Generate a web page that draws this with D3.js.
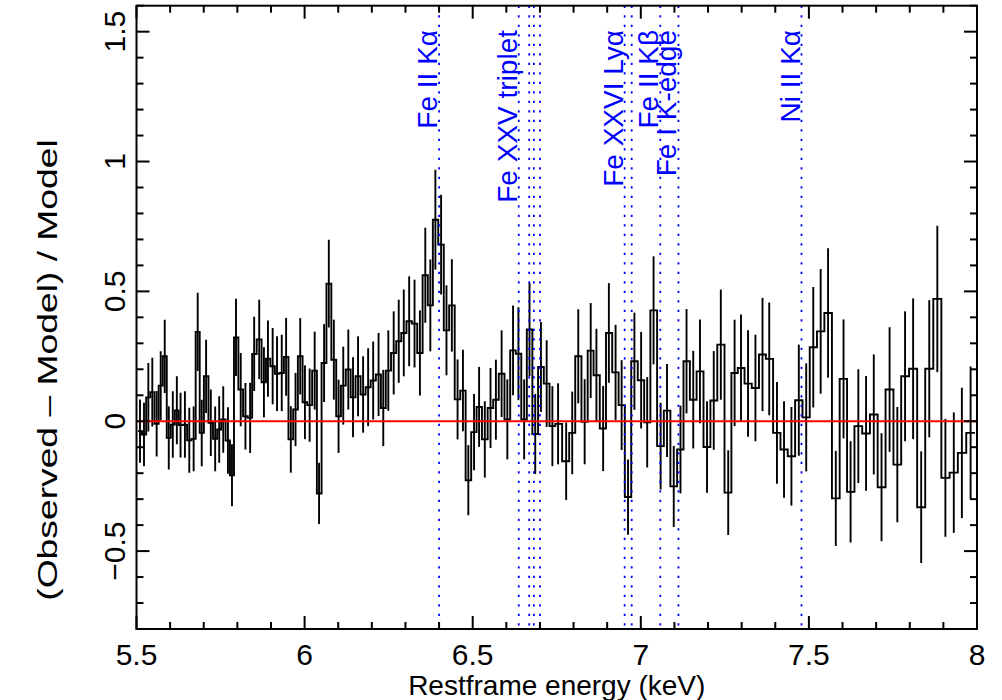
<!DOCTYPE html>
<html><head><meta charset="utf-8">
<script src="https://cdn.jsdelivr.net/npm/d3@7"></script>
<style>body{margin:0;background:#fff} svg{display:block}</style>
</head><body>
<svg id="c" width="1002" height="700"></svg>
<script>
// Bin centres (keV)
const energy = [
 5.5104,5.5223,5.5352,5.547,5.560,5.572,5.584,5.596,5.608,5.620,5.631,5.644,5.657,5.670,5.682,5.694,5.707,5.721,5.734,5.746,
 5.758,5.772,5.784,5.796,5.810,5.824,5.838,5.850,5.865,5.879,5.891,5.905,5.918,5.932,5.945,5.959,5.973,5.987,6.001,6.015,
 6.030,6.043,6.058,6.072,6.087,6.101,6.115,6.130,
 6.144,6.159,6.174,6.189,6.204,6.220,6.234,6.249,6.265,6.280,6.295,6.311,6.327,6.343,6.359,6.374,6.389,6.406,6.422,6.438,
 6.455,6.471,6.487,6.504,6.519,6.536,6.553,6.569,6.586,6.603,6.620,6.636,6.653,6.669,6.686,6.703,6.720,6.737,6.754,
 6.778,6.796,6.814,6.833,6.851,6.868,6.888,6.905,6.925,6.943,6.962,6.981,7.001,7.019,7.038,7.059,7.078,7.098,7.118,7.136,
 7.156,7.176,7.197,7.217,7.238,7.260,7.279,7.298,7.319,7.341,7.362,
 7.382,7.405,7.426,7.448,7.470,7.492,7.513,7.535,7.557,7.580,7.603,7.624,7.647,7.670,7.693,7.716,7.740,7.763,7.786,7.810,
 7.834,7.858,7.882,7.906,7.931,7.955,7.981
];
// (Observed - Model) / Model
const ratio = [
 -0.038,-0.051,0.092,0.112,-0.010,0.137,0.250,-0.064,-0.013,0.042,-0.015,-0.013,-0.073,-0.068,0.344,-0.045,0.173,-0.006,-0.068,-0.032,
 0.007,-0.074,-0.208,0.323,0.122,0.019,0.013,0.259,0.315,0.150,0.241,0.212,0.183,0.186,0.248,-0.070,0.045,0.250,0.073,0.062,
 0.195,-0.278,0.224,0.530,0.237,0.019,0.137,0.199,
 0.092,0.173,0.103,0.131,0.157,0.180,0.051,0.195,0.263,0.308,0.340,0.385,0.376,0.263,0.562,0.446,0.776,0.680,0.350,0.446,
 0.084,0.118,-0.227,-0.042,0.055,-0.070,0.051,0.083,0.183,0.007,0.273,0.260,0.007,0.353,-0.049,0.209,0.145,-0.019,-0.010,
 -0.154,-0.045,0.250,-0.002,0.272,0.177,-0.028,0.340,0.188,0.062,-0.292,0.231,0.158,-0.004,0.427,-0.096,0.041,-0.251,-0.109,0.231,
 0.083,0.192,-0.099,0.080,0.295,-0.275,0.186,0.205,0.145,0.128,0.257,
 0.240,-0.045,-0.109,-0.135,0.081,0.015,0.285,0.346,0.417,-0.297,0.163,-0.272,-0.019,-0.047,0.026,-0.254,0.122,-0.167,0.173,0.202,
 -0.331,0.202,0.471,-0.218,-0.198,-0.122,-0.045
];
// 1-sigma errors
const error = [
 0.122,0.122,0.132,0.132,0.126,0.132,0.141,0.122,0.128,0.131,0.125,0.128,0.125,0.125,0.151,0.128,0.141,0.128,0.125,0.128,
 0.128,0.128,0.119,0.149,0.141,0.128,0.135,0.143,0.153,0.135,0.147,0.147,0.144,0.147,0.150,0.128,0.141,0.147,0.142,0.141,
 0.150,0.118,0.150,0.169,0.154,0.141,0.150,0.154,
 0.154,0.154,0.147,0.150,0.150,0.160,0.147,0.155,0.160,0.160,0.167,0.173,0.169,0.164,0.183,0.177,0.192,0.192,0.173,0.178,
 0.154,0.157,0.135,0.147,0.154,0.147,0.154,0.154,0.167,0.154,0.173,0.179,0.154,0.179,0.154,0.173,0.167,0.154,0.156,
 0.149,0.159,0.181,0.164,0.183,0.179,0.164,0.192,0.183,0.173,0.145,0.187,0.186,0.174,0.208,0.167,0.179,0.156,0.169,0.201,
 0.188,0.200,0.176,0.190,0.212,0.163,0.205,0.206,0.205,0.205,0.218,
 0.217,0.196,0.186,0.190,0.214,0.208,0.232,0.240,0.249,0.183,0.229,0.195,0.219,0.221,0.231,0.208,0.240,0.222,0.250,0.271,
 0.215,0.264,0.282,0.227,0.232,0.251,0.256
];
// Emission/absorption line identifications
const lineEnergies = [6.400, 6.637, 6.668, 6.682, 6.700, 6.952, 6.973, 7.058, 7.112, 7.478];
const lineLabels = ["Fe II Kα", "Fe XXV triplet", "Fe XXVI Lyα", "Fe II Kβ", "Fe I K-edge", "Ni II Kα"];
const labelEnergies = [6.400, 6.637, 6.952, 7.058, 7.112, 7.478];
const xTicks = [5.5, 6, 6.5, 7, 7.5, 8];
const xTickLabels = ["5.5", "6", "6.5", "7", "7.5", "8"];
const yTicks = [-0.5, 0, 0.5, 1, 1.5];
const yTickLabels = ["−0.5", "0", "0.5", "1", "1.5"];

const W = 1002, H = 700;
const L = 136.5, R = 977, T = 5.7, B = 629;
const FONT = "'Liberation Sans', Arial, Helvetica, sans-serif";
const svg = d3.select("#c");
const x = d3.scaleLinear().domain([5.5, 8]).range([L, R]);
const y = d3.scaleLinear().domain([-0.8, 1.6]).range([B, T]);

svg.append("defs").append("clipPath").attr("id", "clip")
  .append("rect").attr("x", L).attr("y", T).attr("width", R - L).attr("height", B - T);
const plot = svg.append("g").attr("clip-path", "url(#clip)");

// bin edges from midpoints between centres
const edges = [];
for (let i = 0; i < energy.length; i++) {
  const lo = i === 0 ? energy[0] - (energy[1] - energy[0]) / 2 : (energy[i - 1] + energy[i]) / 2;
  const hi = i === energy.length - 1 ? energy[i] + (energy[i] - energy[i - 1]) / 2 : (energy[i] + energy[i + 1]) / 2;
  edges.push([lo, hi]);
}
const stepPts = [];
energy.forEach((e, i) => { stepPts.push([edges[i][0], ratio[i]]); stepPts.push([edges[i][1], ratio[i]]); });
plot.append("path").datum(stepPts)
  .attr("d", d3.line().x(d => x(d[0])).y(d => y(d[1])))
  .attr("fill", "none").attr("stroke", "#000").attr("stroke-width", 1.9);

plot.selectAll("line.err").data(energy).join("line").attr("class", "err")
  .attr("x1", d => x(d)).attr("x2", d => x(d))
  .attr("y1", (d, i) => y(ratio[i] - error[i])).attr("y2", (d, i) => y(ratio[i] + error[i]))
  .attr("stroke", "#000").attr("stroke-width", 1.9);

// zero line
plot.append("line").attr("x1", L).attr("x2", R).attr("y1", y(0)).attr("y2", y(0))
  .attr("stroke", "#ff0000").attr("stroke-width", 2);

// line markers
plot.selectAll("line.id").data(lineEnergies).join("line").attr("class", "id")
  .attr("x1", d => x(d)).attr("x2", d => x(d)).attr("y1", T).attr("y2", B)
  .attr("stroke", "#0000ff").attr("stroke-width", 1.8).attr("stroke-dasharray", "2.2,7.3");

svg.selectAll("text.lab").data(lineLabels).join("text").attr("class", "lab")
  .attr("transform", (d, i) => `translate(${x(labelEnergies[i]) - 2},30) rotate(-90)`)
  .attr("text-anchor", "end").attr("font-family", FONT).attr("font-size", 28)
  .attr("fill", "#0000ff").text(d => d);

// frame
svg.append("rect").attr("x", L).attr("y", T).attr("width", R - L).attr("height", B - T)
  .attr("fill", "none").attr("stroke", "#000").attr("stroke-width", 2);

// ticks
const xMinor = d3.range(5.5, 8.0001, 0.1);
const yMinor = d3.range(-0.8, 1.6001, 0.1);
const isMajor = v => Math.abs(v * 2 - Math.round(v * 2)) < 1e-6;
const tk = svg.append("g").attr("stroke", "#000").attr("stroke-width", 2);
xMinor.forEach(v => {
  const len = isMajor(v) ? 13 : 7;
  tk.append("line").attr("x1", x(v)).attr("x2", x(v)).attr("y1", B).attr("y2", B - len);
  tk.append("line").attr("x1", x(v)).attr("x2", x(v)).attr("y1", T).attr("y2", T + len);
});
yMinor.forEach(v => {
  const len = isMajor(v) ? 13 : 7;
  tk.append("line").attr("y1", y(v)).attr("y2", y(v)).attr("x1", L).attr("x2", L + len);
  tk.append("line").attr("y1", y(v)).attr("y2", y(v)).attr("x1", R).attr("x2", R - len);
});

svg.selectAll("text.xt").data(xTicks).join("text").attr("class", "xt")
  .attr("x", d => x(d)).attr("y", 665).attr("text-anchor", "middle")
  .attr("font-family", FONT).attr("font-size", 30).attr("fill", "#000")
  .text((d, i) => xTickLabels[i]);
svg.selectAll("text.yt").data(yTicks).join("text").attr("class", "yt")
  .attr("transform", d => `translate(125,${y(d)}) rotate(-90)`).attr("text-anchor", "middle")
  .attr("font-family", FONT).attr("font-size", 30).attr("fill", "#000")
  .text((d, i) => yTickLabels[i]);

svg.append("text").attr("x", (L + R) / 2).attr("y", 695).attr("text-anchor", "middle")
  .attr("font-family", FONT).attr("font-size", 28).attr("fill", "#000")
  .text("Restframe energy (keV)");
svg.append("text").attr("transform", `translate(57,370) rotate(-90) scale(1.38,1)`).attr("text-anchor", "middle")
  .attr("font-family", FONT).attr("font-size", 27).attr("fill", "#000")
  .text("(Observed – Model) / Model");
</script>
</body></html>
